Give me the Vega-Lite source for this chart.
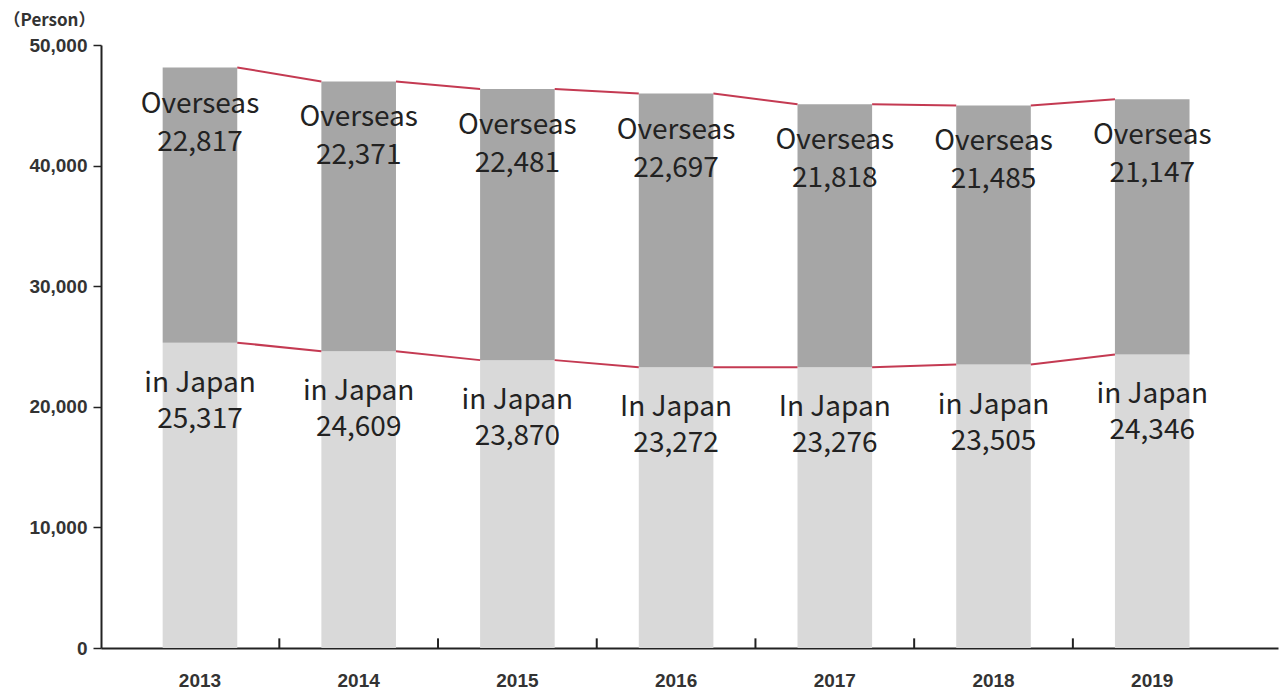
{
  "$schema": "https://vega.github.io/schema/vega-lite/v6.json",
  "width": 1177,
  "height": 603,
  "autosize": "none",
  "padding": {"left": 101, "top": 45, "right": 3, "bottom": 43},
  "background": "white",
  "config": {"view": {"stroke": null}, "font": "Noto Sans CJK JP"},
  "data": {
    "values": [
      {"year": "2013", "group": "Japan", "k": 1, "label": "in Japan", "value": 25317},
      {"year": "2013", "group": "Overseas", "k": 2, "label": "Overseas", "value": 22817},
      {"year": "2014", "group": "Japan", "k": 1, "label": "in Japan", "value": 24609},
      {"year": "2014", "group": "Overseas", "k": 2, "label": "Overseas", "value": 22371},
      {"year": "2015", "group": "Japan", "k": 1, "label": "in Japan", "value": 23870},
      {"year": "2015", "group": "Overseas", "k": 2, "label": "Overseas", "value": 22481},
      {"year": "2016", "group": "Japan", "k": 1, "label": "In Japan", "value": 23272},
      {"year": "2016", "group": "Overseas", "k": 2, "label": "Overseas", "value": 22697},
      {"year": "2017", "group": "Japan", "k": 1, "label": "In Japan", "value": 23276},
      {"year": "2017", "group": "Overseas", "k": 2, "label": "Overseas", "value": 21818},
      {"year": "2018", "group": "Japan", "k": 1, "label": "in Japan", "value": 23505},
      {"year": "2018", "group": "Overseas", "k": 2, "label": "Overseas", "value": 21485},
      {"year": "2019", "group": "Japan", "k": 1, "label": "in Japan", "value": 24346},
      {"year": "2019", "group": "Overseas", "k": 2, "label": "Overseas", "value": 21147}
    ]
  },
  "transform": [
    {"stack": "value", "groupby": ["year"], "sort": [{"field": "k", "order": "ascending"}], "as": ["y0", "y1"]}
  ],
  "encoding": {
    "x": {
      "field": "year",
      "type": "ordinal",
      "scale": {"paddingInner": 0, "paddingOuter": 0.208, "align": 0.297},
      "axis": {
        "title": null,
        "ticks": false,
        "domainColor": "#222",
        "domainWidth": 2,
        "labelAngle": 0,
        "labelFont": "Liberation Sans",
        "labelFontSize": 19,
        "labelFontWeight": "bold",
        "labelColor": "#333",
        "labelPadding": 23,
        "labelBaseline": "top"
      }
    }
  },
  "layer": [
    {
      "mark": {"type": "bar", "width": {"band": 0.47}},
      "encoding": {
        "y": {
          "field": "y1",
          "type": "quantitative",
          "scale": {"domain": [0, 50000], "nice": false},
          "axis": {
            "title": "（Person）",
            "titleAngle": 0,
            "titleAlign": "center",
            "titleBaseline": "middle",
            "titleX": -52,
            "titleY": -25,
            "titleFont": "Noto Sans CJK JP",
            "titleFontSize": 17,
            "titleFontWeight": "bold",
            "titleColor": "#333",
            "values": [0, 10000, 20000, 30000, 40000, 50000],
            "labelExpr": "format(datum.value, ',')",
            "grid": false,
            "domainColor": "#222",
            "domainWidth": 2,
            "tickColor": "#222",
            "tickSize": 8,
            "tickWidth": 1.5,
            "labelFont": "Liberation Sans",
            "labelFontSize": 19,
            "labelFontWeight": "bold",
            "labelColor": "#333",
            "labelPadding": 6
          }
        },
        "y2": {"field": "y0"},
        "color": {
          "field": "group",
          "type": "nominal",
          "scale": {"domain": ["Japan", "Overseas"], "range": ["#d9d9d9", "#a6a6a6"]},
          "legend": null
        }
      }
    },
    {
      "transform": [
        {"window": [{"op": "lead", "field": "y1", "as": "ny1"}, {"op": "lead", "field": "year", "as": "nyear"}], "groupby": ["group"], "sort": [{"field": "year", "order": "ascending"}]},
        {"filter": "datum.nyear != null"}
      ],
      "mark": {"type": "rule", "color": "#c43a52", "strokeWidth": 2},
      "encoding": {
        "x": {"field": "year", "type": "ordinal", "bandPosition": 0.735},
        "x2": {"field": "nyear", "bandPosition": 0.265},
        "y": {"field": "y1", "type": "quantitative"},
        "y2": {"field": "ny1"}
      }
    },
    {
      "transform": [{"filter": "datum.group == 'Japan' && datum.year != '2019'"}],
      "mark": {"type": "rule", "color": "#222", "strokeWidth": 2},
      "encoding": {
        "x": {"field": "year", "type": "ordinal", "bandPosition": 1},
        "y": {"datum": 0, "type": "quantitative"},
        "y2": {"datum": 800}
      }
    },
    {
      "transform": [{"filter": "datum.group == 'Overseas'"}],
      "mark": {"type": "text", "baseline": "alphabetic", "dy": 45, "fontSize": 28, "color": "#222", "font": "Noto Sans CJK JP"},
      "encoding": {"y": {"field": "y1", "type": "quantitative"}, "text": {"field": "label"}}
    },
    {
      "transform": [{"filter": "datum.group == 'Overseas'"}],
      "mark": {"type": "text", "baseline": "alphabetic", "dy": 83, "fontSize": 28, "color": "#222", "font": "Noto Sans CJK JP"},
      "encoding": {"y": {"field": "y1", "type": "quantitative"}, "text": {"field": "value", "type": "quantitative", "format": ","}}
    },
    {
      "transform": [{"filter": "datum.group == 'Japan'"}],
      "mark": {"type": "text", "baseline": "alphabetic", "dy": 49, "fontSize": 28, "color": "#222", "font": "Noto Sans CJK JP"},
      "encoding": {"y": {"field": "y1", "type": "quantitative"}, "text": {"field": "label"}}
    },
    {
      "transform": [{"filter": "datum.group == 'Japan'"}],
      "mark": {"type": "text", "baseline": "alphabetic", "dy": 85, "fontSize": 28, "color": "#222", "font": "Noto Sans CJK JP"},
      "encoding": {"y": {"field": "y1", "type": "quantitative"}, "text": {"field": "value", "type": "quantitative", "format": ","}}
    }
  ]
}
